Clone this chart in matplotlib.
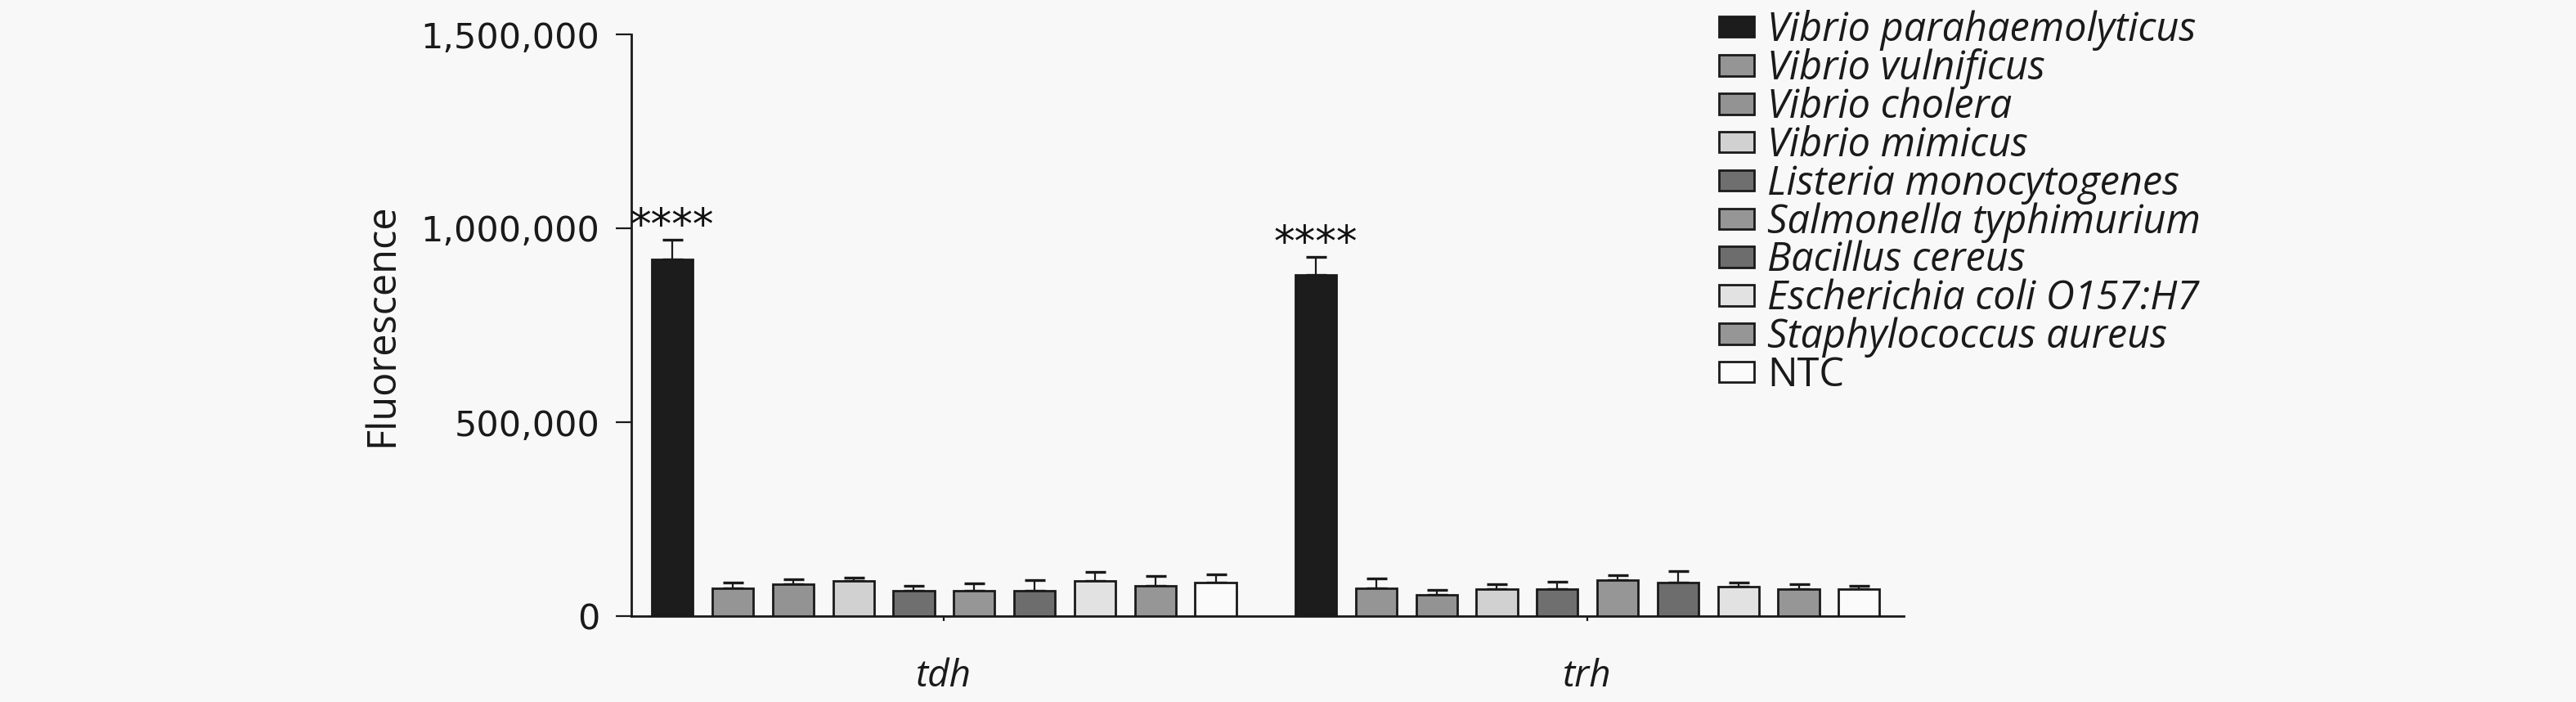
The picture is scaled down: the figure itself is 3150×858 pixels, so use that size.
import numpy as np
import matplotlib
matplotlib.use("Agg")
import matplotlib.pyplot as plt

# ---------------- data ----------------
genes = ["tdh", "trh"]
species = ["Vibrio parahaemolyticus", "Vibrio vulnificus", "Vibrio cholera",
           "Vibrio mimicus", "Listeria monocytogenes", "Salmonella typhimurium",
           "Bacillus cereus", "Escherichia coli O157:H7", "Staphylococcus aureus", "NTC"]
tdh_values = [920000, 72700, 82600, 90400, 65000, 66400, 65000, 89700, 77700, 86000]
tdh_errors = [50000, 13300, 11400, 9200, 13000, 18600, 27000, 24300, 26300, 22000]
trh_values = [880000, 72700, 55800, 69200, 70600, 91800, 86000, 76300, 70600, 70600]
trh_errors = [46000, 24800, 12000, 14100, 17000, 14200, 30000, 9700, 12000, 7100]
significance = ["****", "****"]
yticks = [0, 500000, 1000000, 1500000]
ytick_labels = ["0", "500,000", "1,000,000", "1,500,000"]

# ---------------- style ----------------
bg = "#f8f8f8"
colors = ["#1c1c1c", "#959595", "#939393", "#d1d1d1", "#6f6f6f",
          "#969696", "#6d6d6d", "#e2e2e2", "#969696", "#fbfbfb"]
edge = "#1a1a1a"

fig = plt.figure(figsize=(31.5, 8.58), dpi=100, facecolor=bg)
ax = fig.add_axes([772 / 3150, 1 - 753 / 858, (2328 - 772) / 3150, (753 - 42) / 858])
ax.set_facecolor(bg)

values = [tdh_values, trh_values]
errors = [tdh_errors, trh_errors]
group_centers = np.array([0.0, 10.66])
n = len(species)
offsets = np.arange(n) - (n - 1) / 2
width = 0.68

for i, sp in enumerate(species):
    xs = group_centers + offsets[i]
    vals = [values[g][i] for g in range(len(genes))]
    errs = [errors[g][i] for g in range(len(genes))]
    ax.bar(xs, vals, width=width, color=colors[i], edgecolor=edge,
           linewidth=2.0, label=sp, zorder=3)
    ax.errorbar(xs, vals, yerr=[np.zeros(len(vals)), errs], fmt="none",
                ecolor=edge, elinewidth=1.6, capsize=9, capthick=2.4, zorder=2)

for g in range(len(genes)):
    top = values[g][0] + errors[g][0]
    ax.text(group_centers[g] + offsets[0], top - 20000, significance[g],
            ha="center", va="bottom", fontsize=37, family="DejaVu Sans",
            color="#111111")

ax.set_xlim(-5.18, 15.90)
ax.set_ylim(0, 1500000)
ax.set_yticks(yticks)
ax.set_yticklabels(ytick_labels, fontsize=31, family="DejaVu Sans", color="#1a1a1a")
ax.set_xticks(group_centers)
ax.set_xticklabels(genes, fontsize=33, family="Open Sans", style="italic", color="#1a1a1a")
ax.tick_params(axis="y", length=14, width=1.6, pad=14, color=edge)
ax.tick_params(axis="x", length=4, width=1.6, pad=33, color=edge)
for s in ["top", "right"]:
    ax.spines[s].set_visible(False)
for s in ["left", "bottom"]:
    ax.spines[s].set_linewidth(2.0)
    ax.spines[s].set_color(edge)

ax.set_ylabel("Fluorescence", fontsize=35, family="Open Sans", color="#1a1a1a")
ax.yaxis.set_label_coords(-0.180, 0.5)

leg = fig.legend(loc="upper left", bbox_to_anchor=(2102 / 3150, 0.986),
                 frameon=False, borderpad=0, borderaxespad=0,
                 prop={"family": "Open Sans", "style": "italic", "size": 35},
                 handlelength=0.88, handleheight=0.43, handletextpad=0.34,
                 labelspacing=-0.055)
for t in leg.get_texts():
    if t.get_text() == "NTC":
        t.set_fontstyle("normal")
    t.set_color("#1a1a1a")

fig.savefig("out.png", dpi=100, facecolor=bg)
